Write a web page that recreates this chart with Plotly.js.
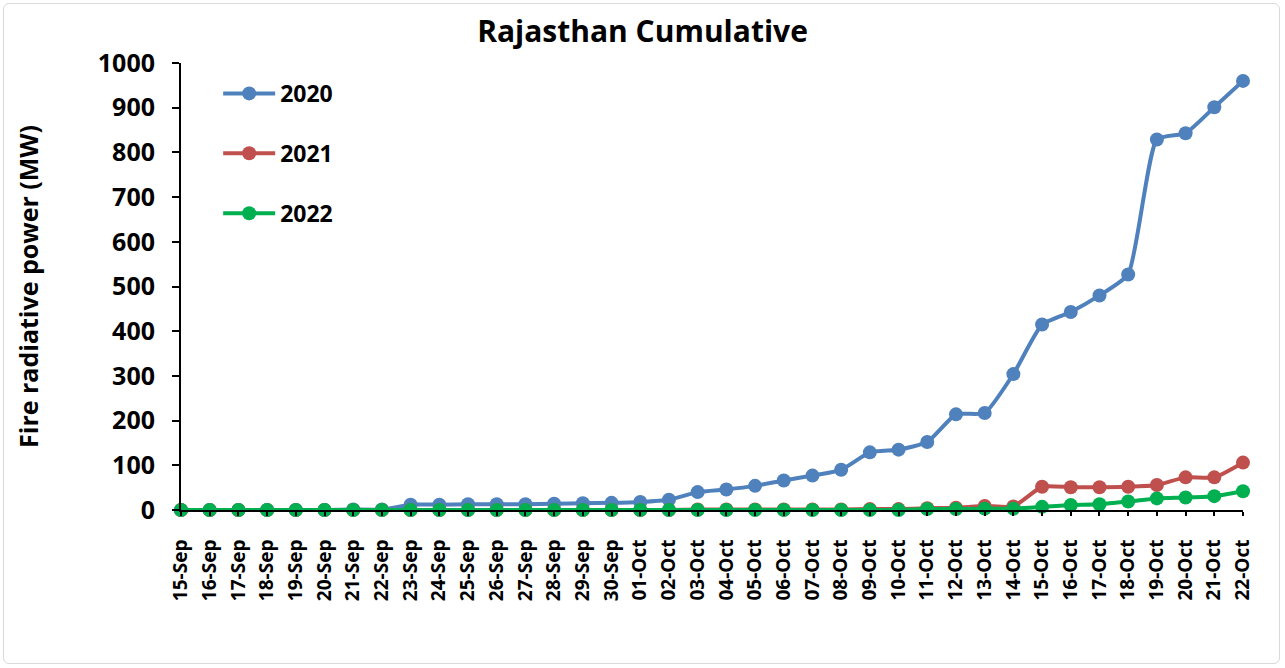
<!DOCTYPE html>
<html>
<head>
<meta charset="utf-8">
<script src="https://cdn.plot.ly/plotly-3.0.1.min.js"></script>
<style>
  html, body { margin: 0; padding: 0; background: #fff; }
  #wrap { position: relative; width: 1285px; height: 668px; }
  #chart { width: 1285px; height: 668px; }
  #frame { position: absolute; left: 3px; top: 3px; width: 1275px; height: 659px;
           border: 1px solid #d9d9d9; border-radius: 6px; pointer-events: none; }
</style>
</head>
<body>
<div id="wrap"><div id="chart"></div><div id="frame"></div></div>
<script>
const categories = [
  "15-Sep","16-Sep","17-Sep","18-Sep","19-Sep","20-Sep","21-Sep","22-Sep","23-Sep","24-Sep",
  "25-Sep","26-Sep","27-Sep","28-Sep","29-Sep","30-Sep","01-Oct","02-Oct","03-Oct","04-Oct",
  "05-Oct","06-Oct","07-Oct","08-Oct","09-Oct","10-Oct","11-Oct","12-Oct","13-Oct","14-Oct",
  "15-Oct","16-Oct","17-Oct","18-Oct","19-Oct","20-Oct","21-Oct","22-Oct"
];
const y2020 = [0,0,0,0,0,0,1,1,12,12,13,13,13,14,15,16,18,23,40,46,54,66,77,90,129,135,
               152,214,217,304,415,443,480,527,829,843,901,960];
const y2021 = [0,0,0,0,0,0,0,0,0,0,0,0,0,0,0,0,0,0,1,1,1,1,1,1,2,2,
               4,5,9,8,52,51,51,52,56,73,73,106];
const y2022 = [0,0,0,0,0,0,0,0,0,0,0,0,0,0,0,0,0,0,0,0,0,0,0,0,0,0,
               2,2,3,3,7,11,13,19,26,28,31,42];
const seriesNames = ["2020","2021","2022"];
const seriesColors = ["#4f81bd","#c0504d","#00b050"];

const FONT = "'Open Sans', 'Noto Sans', sans-serif";
const ys = [y2020, y2021, y2022];
const traces = ys.map((y, i) => ({
  type: "scatter",
  mode: "lines+markers",
  x: categories,
  y: y,
  name: "<b>" + seriesNames[i] + "</b>",
  legendgroup: seriesNames[i],
  line: {color: seriesColors[i], width: 4, shape: "spline", smoothing: 0.5},
  marker: {color: seriesColors[i], size: 14},
  cliponaxis: false
}));

const layout = {
  width: 1285, height: 668,
  margin: {l: 181, r: 42, t: 63, b: 158},
  paper_bgcolor: "#ffffff",
  plot_bgcolor: "#ffffff",
  font: {family: FONT, color: "#000", size: 18},
  title: {text: "<b>Rajasthan Cumulative</b>", x: 0.5, xref: "container", xanchor: "center",
          y: 1 - 31/668, yref: "container", yanchor: "middle",
          font: {family: FONT, size: 30, color: "#000"}},
  showlegend: true,
  legend: {x: 0.035, y: 0.98, xanchor: "left", yanchor: "top", bgcolor: "rgba(0,0,0,0)",
           font: {family: FONT, size: 23, color: "#000"}, tracegroupgap: 27, traceorder: "grouped",
           itemwidth: 52},
  xaxis: {
    type: "category",
    range: [0, categories.length - 1],
    showgrid: false, zeroline: false,
    showline: true, linecolor: "#000", linewidth: 2,
    ticks: "outside", ticklen: 4, tickcolor: "#000", tickwidth: 2,
    tickangle: -90,
    ticklabelstandoff: 16,
    tickfont: {family: FONT, size: 19, color: "#000", weight: "bold"},
    fixedrange: true
  },
  yaxis: {
    range: [0, 1000],
    dtick: 100,
    showgrid: false, zeroline: false,
    showline: true, linecolor: "#000", linewidth: 2,
    ticks: "outside", ticklen: 7, tickcolor: "#000", tickwidth: 2,
    ticklabelstandoff: 12,
    tickfont: {family: FONT, size: 25, color: "#000", weight: "bold"},
    title: {text: "<b>Fire radiative power (MW)</b>", standoff: 52,
            font: {family: FONT, size: 25, color: "#000"}},
    automargin: false,
    fixedrange: true
  }
};

Plotly.newPlot("chart", traces, layout, {displayModeBar: false, responsive: false});
</script>
</body>
</html>
